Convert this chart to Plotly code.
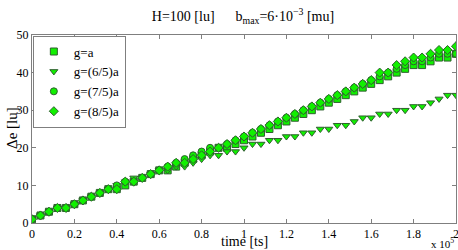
import plotly.graph_objects as go

# time in units of 1e5 [ts]
time_e5 = [0.00, 0.04, 0.08, 0.12, 0.16, 0.20, 0.24, 0.28, 0.32, 0.36,
           0.40, 0.44, 0.48, 0.52, 0.56, 0.60, 0.64, 0.68, 0.72, 0.76,
           0.80, 0.84, 0.88, 0.92, 0.96, 1.00, 1.04, 1.08, 1.12, 1.16,
           1.20, 1.24, 1.28, 1.32, 1.36, 1.40, 1.44, 1.48, 1.52, 1.56,
           1.60, 1.64, 1.68, 1.72, 1.76, 1.80, 1.84, 1.88, 1.92, 1.96, 2.00]

g_a = [1, 2, 3, 4, 4, 5, 6, 7, 8, 9,
       9, 10, 11, 12, 13, 14, 14, 15, 16, 17,
       18, 19, 20, 20, 21, 22, 23, 24, 25, 26,
       27, 28, 29, 30, 31, 32, 33, 34, 35, 36,
       37, 38, 39, 40, 41, 42, 42, 43, 44, 44, 45]

g_65 = [1, 2, 3, 4, 4, 5, 6, 7, 8, 9,
        10, 11, 12, 12, 13, 14, 14, 15, 15, 16,
        17, 18, 18, 19, 19, 20, 21, 21, 22, 22,
        23, 23, 24, 24, 25, 25, 26, 26, 27, 28,
        28, 29, 29, 30, 30, 31, 31, 32, 33, 34, 34]

g_75 = [1, 2, 3, 4, 4, 5, 6, 7, 8, 9,
        10, 11, 11, 12, 13, 14, 15, 16, 17, 18,
        19, 20, 20, 21, 22, 23, 24, 25, 26, 27,
        28, 29, 30, 31, 32, 33, 34, 35, 36, 37,
        38, 39, 40, 41, 42, 43, 43, 44, 45, 45, 45]

g_85 = [1, 2, 3, 4, 4, 5, 6, 7, 8, 9,
        9, 11, 11, 12, 13, 14, 15, 16, 16, 17,
        18, 19, 20, 21, 22, 23, 24, 25, 26, 27,
        28, 29, 30, 31, 32, 33, 34, 35, 36, 37,
        38, 40, 40, 42, 43, 44, 44, 45, 46, 46, 47]

series = [
    ("g=a", g_a, "square"),
    ("g=(6/5)a", g_65, "triangle-down"),
    ("g=(7/5)a", g_75, "circle"),
    ("g=(8/5)a", g_85, "diamond"),
]

x_ticks = [0, 0.2, 0.4, 0.6, 0.8, 1.0, 1.2, 1.4, 1.6, 1.8, 2.0]
x_ticktext = ["0", "0.2", "0.4", "0.6", "0.8", "1", "1.2", "1.4", "1.6", "1.8", "2"]
y_ticks = [0, 10, 20, 30, 40, 50]

FONT = "Liberation Serif"

fig = go.Figure()
for name, vals, sym in series:
    fig.add_trace(go.Scatter(
        x=time_e5, y=vals, mode="markers", name=name,
        marker=dict(symbol=sym, size=7, color="#11f000",
                    line=dict(color="#2f5f2f", width=1)),
    ))

axis_common = dict(showgrid=False, zeroline=False, showline=True,
                   linecolor="#7f7f7f", linewidth=1, mirror="ticks",
                   ticks="inside", ticklen=4, tickcolor="#7f7f7f",
                   automargin=False, ticklabeloverflow="allow",
                   tickfont=dict(family=FONT, size=12, color="#000"))

fig.update_xaxes(range=[0, 2], tickvals=x_ticks, ticktext=x_ticktext, **axis_common)
fig.update_yaxes(range=[0, 50], tickvals=y_ticks, **axis_common)

W, H = 458, 250
fig.update_layout(
    width=W, height=H,
    margin=dict(l=32, r=2, t=35, b=27, autoexpand=False),
    paper_bgcolor="white", plot_bgcolor="white",
    title=dict(text="H=100 [lu]&nbsp;&nbsp;&nbsp;&nbsp;&nbsp;&nbsp;b<sub>max</sub>=6·10<sup>−3</sup> [mu]",
               x=243 / W, xanchor="center", y=1 - 16 / H, yanchor="middle",
               font=dict(family=FONT, size=14, color="#000")),
    showlegend=True,
    legend=dict(x=0.002, y=0.997, xanchor="left", yanchor="top",
                bgcolor="white", bordercolor="#7f7f7f", borderwidth=1,
                font=dict(family=FONT, size=13, color="#000"),
                tracegroupgap=0, itemwidth=30),
    annotations=[
        dict(text="time [ts]", xref="paper", yref="paper",
             x=(244 - 32) / 424, y=-(242 - 223) / 188, xanchor="center", yanchor="middle",
             showarrow=False, font=dict(family=FONT, size=14, color="#000")),
        dict(text="Δe [lu]", xref="paper", yref="paper",
             x=-(32 - 12) / 424, y=(223 - 128) / 188, xanchor="center", yanchor="middle",
             textangle=-90, showarrow=False,
             font=dict(family=FONT, size=15, color="#000")),
        dict(text="x 10<sup>5</sup>", xref="paper", yref="paper",
             x=1.0, y=-(243 - 223) / 188, xanchor="right", yanchor="middle", showarrow=False,
             font=dict(family=FONT, size=11, color="#000")),
    ],
)

# remove the default 8px page margin so the 458x250 figure fills the window
fig.write_html("out.html", config={"displayModeBar": False},
               post_script="document.body.style.margin='0';document.body.style.overflow='hidden';")
